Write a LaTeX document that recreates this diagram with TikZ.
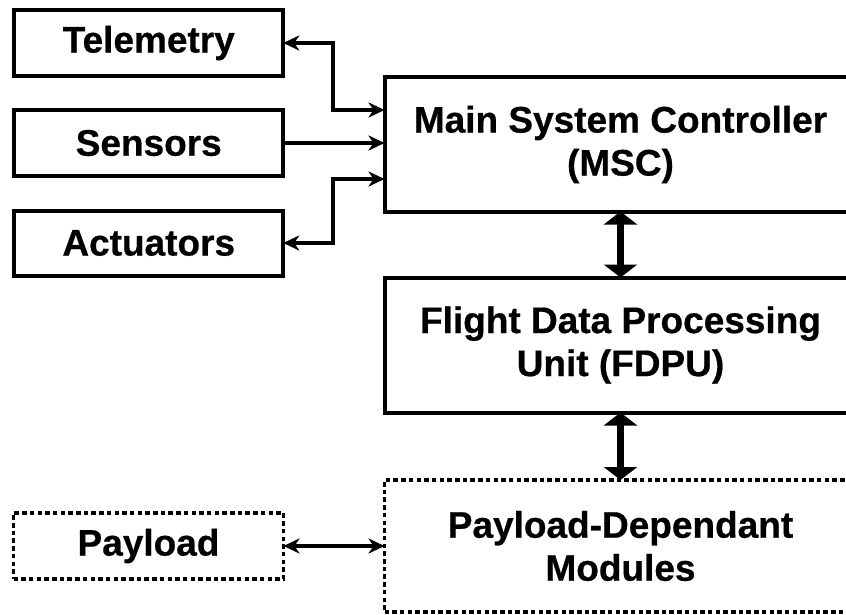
\documentclass[tikz,border=0pt]{standalone}
\usepackage{fontspec}
\setmainfont[BoldFeatures={FakeBold=0.6}]{Liberation Sans}
\usetikzlibrary{arrows.meta,calc}
\tikzset{
  tipS/.tip={Stealth[length=16pt,width=15pt,inset=5pt]},
  tipT/.tip={Triangle[length=13pt,width=33pt]}
}
\begin{document}
\begin{tikzpicture}[x=1pt,y=-1pt,
  box/.style={draw=black,line width=4pt,rectangle,inner sep=0pt,outer sep=0pt,
    align=center,font=\fontsize{37}{43}\selectfont\bfseries},
  dotbox/.style={box,line width=3.5pt,dash pattern=on 4.5pt off 3.2pt},
  link/.style={{tipS}-{tipS},draw=black,line width=4pt},
  onelink/.style={-{tipS},draw=black,line width=4pt},
  biglink/.style={{tipT}-{tipT},draw=black,line width=6.5pt}]
\useasboundingbox (0,0) rectangle (846,615);
\clip (0,0) rectangle (846,615);
\fill[white] (0,0) rectangle (846,615);

\node[box,minimum width=269pt,minimum height=66pt] (tel) at (148.75,43) {Telemetry};
\node[box,minimum width=269pt,minimum height=66pt] (sen) at (148.75,143) {Sensors};
\node[box,minimum width=269pt,minimum height=65pt] (act) at (148.75,243) {Actuators};

\node[box,minimum width=472pt,minimum height=134pt] (msc) at (620.5,144.5) {Main System Controller\\(MSC)};
\node[box,minimum width=472pt,minimum height=135pt] (fdpu) at (620.5,345) {Flight Data Processing\\Unit (FDPU)};
\node[dotbox,minimum width=472pt,minimum height=132pt] (pdm) at (620.5,546) {Payload-Dependant\\Modules};
\node[dotbox,minimum width=270pt,minimum height=66pt] (pay) at (148.5,546) {Payload};

\draw[link] (tel.east) -- (333,43) |- (msc.west |- 0,110);
\draw[onelink] (sen.east) -- (msc.west |- sen.east);
\draw[link] (act.east) -- (333,243) |- (msc.west |- 0,179);
\draw[biglink] (msc.south) -- (fdpu.north);
\draw[biglink] (fdpu.south) -- (pdm.north);
\draw[link] (pay.east) -- (pdm.west |- pay.east);
\end{tikzpicture}
\end{document}
